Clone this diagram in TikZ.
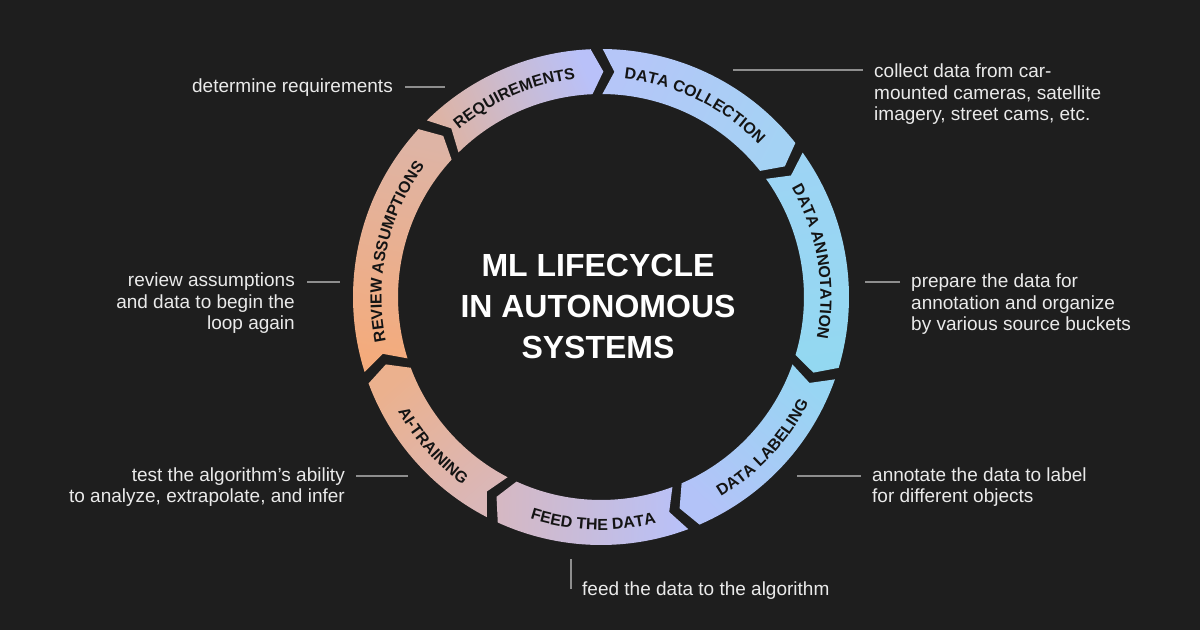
\documentclass[tikz,border=0pt]{standalone}
\usepackage{fontspec}
\setmainfont{Liberation Sans}
\usetikzlibrary{decorations.text}

\definecolor{bgdark}{HTML}{1E1E1E}
\definecolor{leadgray}{HTML}{8E8E8E}
\definecolor{desctext}{HTML}{EAEAEA}
\definecolor{ringtext}{HTML}{141414}
% colours at the ends of each ring piece
\definecolor{reqA}{HTML}{DDB4A6}
\definecolor{reqB}{HTML}{B9C1F9}
\definecolor{colA}{HTML}{B5C6F8}
\definecolor{colB}{HTML}{A4D2F4}
\definecolor{annA}{HTML}{9DD4F4}
\definecolor{annB}{HTML}{93D8F1}
\definecolor{labA}{HTML}{98D5F3}
\definecolor{labB}{HTML}{B3C3F8}
\definecolor{feedA}{HTML}{B8C1F9}
\definecolor{feedB}{HTML}{D5B8C3}
\definecolor{trainA}{HTML}{DAB7B8}
\definecolor{trainB}{HTML}{EBB18E}
\definecolor{revA}{HTML}{F4AB7C}
\definecolor{revB}{HTML}{DEB4A5}

\newcommand{\ringfont}{\fontsize{16}{18}\selectfont\bfseries\color{ringtext}}
\def\ringout{248}
\def\ringin{203}
\def\ringmid{225.5}
\def\hgap{1.4}
\def\chev{3}

\tikzset{
  seg/.style 2 args={insert path={
      ({#1-\hgap}:\ringout) arc[start angle={#1-\hgap}, end angle={#2+\hgap}, radius=\ringout]
      -- ({#2+\hgap-\chev}:\ringmid) -- ({#2+\hgap}:\ringin)
      arc[start angle={#2+\hgap}, end angle={#1-\hgap}, radius=\ringin]
      -- ({#1-\hgap-\chev}:\ringmid) -- cycle}},
  desc/.style={font=\fontsize{19}{21.5}\selectfont, text=desctext, inner sep=0pt},
  leader/.style={draw=leadgray, line width=1.6pt},
  ringlabel/.style={decorate, decoration={text along path, text align=center, text={#1}}}
}

\begin{document}
\begin{tikzpicture}[x=1pt, y=1pt]
  \fill[bgdark] (0,0) rectangle (1200,630);

  \begin{scope}[shift={(601,333)}]
    % the seven arrow pieces of the ring
    \foreach \sa/\sb/\cs/\ce in {136/91/reqA/reqB, 91/37/colA/colB, 37/-18/annA/annB,
        -18/-68/labA/labB, -68/-116/feedA/feedB, -116/-161/trainA/trainB, 199/136/revA/revB} {
      \pgfmathsetmacro\shang{(\sa+\sb)/2-180}
      \shade[seg={\sa}{\sb}, bottom color=\cs, top color=\ce, shading angle=\shang];
    }
    % labels on the ring
    \path[ringlabel={|\ringfont|REQUIREMENTS}] (136:219.5) arc[start angle=136, end angle=91, radius=219.5];
    \path[ringlabel={|\ringfont|DATA COLLECTION}] (91:219.5) arc[start angle=91, end angle=37, radius=219.5];
    \path[ringlabel={|\ringfont|DATA ANNOTATION}] (37:219.5) arc[start angle=37, end angle=-18, radius=219.5];
    \path[ringlabel={|\ringfont|DATA LABELING}] (-68:233) arc[start angle=-68, end angle=-18, radius=233];
    \path[ringlabel={|\ringfont|FEED THE DATA}] (-116:233) arc[start angle=-116, end angle=-68, radius=233];
    \path[ringlabel={|\ringfont|AI-TRAINING}] (-161:233) arc[start angle=-161, end angle=-116, radius=233];
    \path[ringlabel={|\ringfont|REVIEW ASSUMPTIONS}] (199:219.5) arc[start angle=199, end angle=136, radius=219.5];
  \end{scope}

  \node[align=center, text=white, inner sep=0pt, font=\fontsize{32}{41}\selectfont\bfseries]
    (title) at (598,324) {ML LIFECYCLE\\IN AUTONOMOUS\\SYSTEMS};

  % notes round the ring
  \node[desc, anchor=base east] (reqText) at (393,537) {determine requirements};
  \node[desc, anchor=base west] (colText) at (874,552)
    {\begin{tabular}[t]{@{}l@{}}collect data from car-\\mounted cameras, satellite\\imagery, street cams, etc.\end{tabular}};
  \node[desc, anchor=base west] (annText) at (911,342)
    {\begin{tabular}[t]{@{}l@{}}prepare the data for\\annotation and organize\\by various source buckets\end{tabular}};
  \node[desc, anchor=base west] (labText) at (872,149)
    {\begin{tabular}[t]{@{}l@{}}annotate the data to label\\for different objects\end{tabular}};
  \node[desc, anchor=base west] (feedText) at (582,35) {feed the data to the algorithm};
  \node[desc, anchor=base east] (trainText) at (345,149)
    {\begin{tabular}[t]{@{}r@{}}test the algorithm’s ability\\to analyze, extrapolate, and infer\end{tabular}};
  \node[desc, anchor=base east] (revText) at (295,343)
    {\begin{tabular}[t]{@{}r@{}}review assumptions\\and data to begin the\\loop again\end{tabular}};

  \coordinate (reqEnd) at (445,543);
  \coordinate (colEnd) at (733,560);
  \coordinate (annEnd) at (865,348);
  \coordinate (labEnd) at (797,154);
  \coordinate (feedEnd) at (571,71);
  \coordinate (trainEnd) at (408,154);
  \coordinate (revEnd) at (340,348);

  \draw[leader] ([shift={(12,6)}]reqText.base east) -- (reqEnd);
  \draw[leader] ([shift={(-11,8)}]colText.base west) -- (colEnd);
  \draw[leader] ([shift={(-11,6)}]annText.base west) -- (annEnd);
  \draw[leader] ([shift={(-11,5)}]labText.base west) -- (labEnd);
  \draw[leader] ([shift={(-11,6)}]feedText.base west) -- (feedEnd);
  \draw[leader] ([shift={(11,5)}]trainText.base east) -- (trainEnd);
  \draw[leader] ([shift={(12,5)}]revText.base east) -- (revEnd);
\end{tikzpicture}
\end{document}
